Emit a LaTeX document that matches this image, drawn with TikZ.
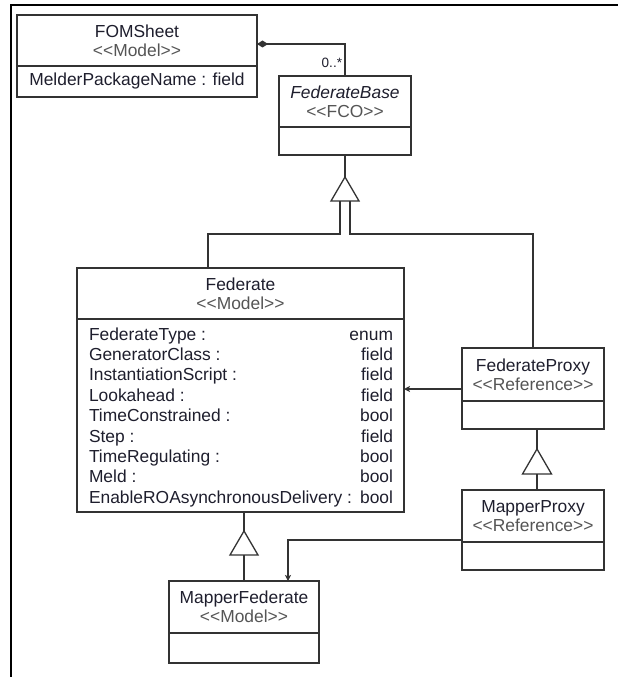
\documentclass[tikz,border=0pt]{standalone}
\usepackage{fontspec}
\setmainfont{Liberation Sans}
\usetikzlibrary{arrows.meta}

\definecolor{umlline}{RGB}{51,51,51}
\definecolor{umltext}{RGB}{30,30,45}
\definecolor{umlstereo}{RGB}{85,85,85}

% stereotype line under a class name
\newcommand{\stype}[1]{{\color{umlstereo}<\kern0pt<#1>\kern0pt>}}

\begin{document}
\begin{tikzpicture}[x=1pt,y=-1pt,
  every node/.style={outer sep=0pt, inner sep=0pt, text=umltext, font=\fontsize{17.4}{19}\selectfont},
  classhead/.style={draw=umlline, line width=1.3pt, align=center, anchor=north west, minimum height=51pt},
  classbody/.style={draw=umlline, line width=1.3pt, anchor=north},
  attrname/.style={anchor=base west},
  attrtype/.style={anchor=base east},
  mult/.style={font=\fontsize{13.5}{15}\selectfont},
  assoc/.style={draw=umlline, line width=1.3pt},
  navassoc/.style={assoc, -{Stealth[length=6pt,width=6pt,inset=1.5pt]}},
  compos/.style={assoc, {Diamond[length=11pt,width=7pt]}-},
  generic/.style={assoc, fill=white, line join=miter}]
\useasboundingbox (0,0) rectangle (618,677);
\draw[line width=2pt] (10.5,677) |- (618,5.5);

\node[classhead, minimum width=240pt] (fomHead) at (17,15) {FOMSheet\\\stype{Model}};
\node[classbody, minimum width=240pt, minimum height=31pt] (fomBody) at (fomHead.south) {MelderPackageName : field};

\node[classhead, minimum width=132pt] (fbHead) at (279,76) {\textit{FederateBase}\\\stype{FCO}};
\node[classbody, minimum width=132pt, minimum height=28pt] (fbBody) at (fbHead.south) {};

\node[classhead, minimum width=327pt] (fedHead) at (77,268) {Federate\\\stype{Model}};
\node[classbody, minimum width=327pt, minimum height=193pt] (fedBody) at (fedHead.south) {};

\node[classhead, minimum width=142pt, minimum height=53pt] (fpHead) at (462,348) {FederateProxy\\\stype{Reference}};
\node[classbody, minimum width=142pt, minimum height=28pt] (fpBody) at (fpHead.south) {};

\node[classhead, minimum width=142pt, minimum height=52pt] (mpHead) at (462,490) {MapperProxy\\\stype{Reference}};
\node[classbody, minimum width=142pt, minimum height=28pt] (mpBody) at (mpHead.south) {};

\node[classhead, minimum width=150pt, minimum height=52pt] (mfHead) at (169,581) {MapperFederate\\\stype{Model}};
\node[classbody, minimum width=150pt, minimum height=30pt] (mfBody) at (mfHead.south) {};

% attributes of Federate
\node[attrname] (aType) at (89,340) {FederateType :};
\node[attrtype] (tType) at (393,340) {enum};
\node[attrname] (aGen) at (89,360.4) {GeneratorClass :};
\node[attrtype] (tGen) at (393,360.4) {field};
\node[attrname] (aInst) at (89,380.8) {InstantiationScript :};
\node[attrtype] (tInst) at (393,380.8) {field};
\node[attrname] (aLook) at (89,401.2) {Lookahead :};
\node[attrtype] (tLook) at (393,401.2) {field};
\node[attrname] (aCons) at (89,421.6) {TimeConstrained :};
\node[attrtype] (tCons) at (393,421.6) {bool};
\node[attrname] (aStep) at (89,442) {Step :};
\node[attrtype] (tStep) at (393,442) {field};
\node[attrname] (aReg) at (89,462.4) {TimeRegulating :};
\node[attrtype] (tReg) at (393,462.4) {bool};
\node[attrname] (aMeld) at (89,482.8) {Meld :};
\node[attrtype] (tMeld) at (393,482.8) {bool};
\node[attrname] (aRO) at (89,503.2) {EnableROAsynchronousDelivery :};
\node[attrtype] (tRO) at (393,503.2) {bool};

% composition FOMSheet -> FederateBase
\draw[compos] ([yshift=-3.5pt]fomHead.east) -| (fbHead.north);
\node[mult, anchor=base east] (fbMult) at ([xshift=-3pt,yshift=9pt]fbHead.north) {0..*};

% FederateBase generalization
\coordinate (gen1) at (345,177);
\coordinate (gen1l) at (340,201);
\coordinate (gen1r) at (350,201);
\coordinate (fedJoin) at (208,234);
\coordinate (proxyJoin) at (533,234);
\draw[assoc] (fbBody.south) -- (gen1);
\draw[generic] (gen1) -- ++(-14,24) -- ++(28,0) -- cycle;
\draw[assoc] (gen1l) |- (fedJoin) -- (fedJoin |- fedHead.north);
\draw[assoc] (gen1r) |- (proxyJoin) -- (fpHead.north);

% Federate generalization
\coordinate (gen2) at (244,531);
\coordinate (gen2b) at (244,555);
\draw[assoc] (fedBody.south -| gen2) -- (gen2);
\draw[generic] (gen2) -- ++(-14,24) -- ++(28,0) -- cycle;
\draw[assoc] (gen2b) -- (mfHead.north);

% FederateProxy generalization
\coordinate (gen3) at (537,449);
\coordinate (gen3b) at (537,474);
\draw[assoc] (fpBody.south -| gen3) -- (gen3);
\draw[generic] (gen3) -- ++(-14.5,25) -- ++(29,0) -- cycle;
\draw[assoc] (gen3b) -- (gen3b |- mpHead.north);

% references
\coordinate (fpOut) at ([yshift=-14.5pt]fpHead.west);
\draw[navassoc] (fpOut) -- (fpOut -| fedBody.east);
\coordinate (mpOut) at ([yshift=2pt]mpBody.north west);
\coordinate (mfIn) at ([xshift=44pt]mfHead.north);
\draw[navassoc] (mpOut) -| (mfIn);
\end{tikzpicture}
\end{document}
